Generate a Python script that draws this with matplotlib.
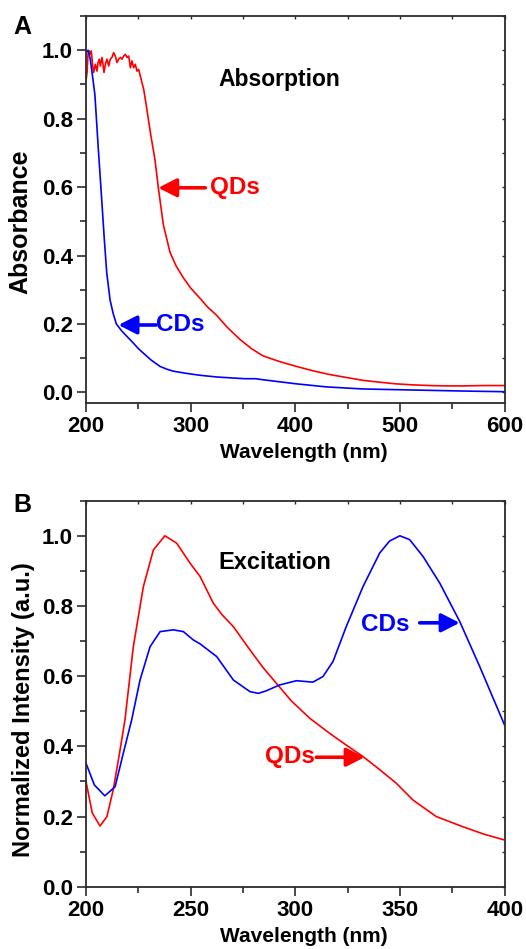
import numpy as np
import matplotlib
matplotlib.use('Agg')
import matplotlib.pyplot as plt
from matplotlib.ticker import MultipleLocator, FormatStrFormatter

plt.rcParams['font.family'] = ['Liberation Sans', 'DejaVu Sans']
plt.rcParams['font.weight'] = 'bold'

# Panel A - absorption
wl_abs_qd = [200, 201, 202, 203, 204, 205, 206.4, 207.3, 208.9, 210.5, 211.5, 212.7, 213.7,
             215.3, 216.2, 217.2, 218.5, 220, 221.7, 223.2, 224.8, 226.4, 228, 229.6, 231.2,
             232.8, 234.4, 236, 237.6, 239.2, 240.8, 242.4, 243.9, 245.5, 247.1, 248.7, 250.3,
             251.9, 253.5, 255.1, 257, 259.5, 262, 265.9, 269.1, 273.9, 280.2, 286, 293, 300,
             308.9, 316, 324.9, 335, 347, 358, 369, 385, 401, 417, 433, 450, 465, 480, 496,
             512, 528, 545, 560, 580, 600]
abs_qd = [0.91, 0.935, 0.993, 0.998, 0.988, 0.998, 0.954, 0.935, 0.959, 0.939, 0.964, 0.974, 0.954,
          0.979, 0.959, 0.935, 0.959, 0.974, 0.954, 0.974, 0.979, 0.993, 0.983, 0.964, 0.974,
          0.979, 0.974, 0.983, 0.988, 0.979, 0.983, 0.949, 0.969, 0.949, 0.959, 0.939, 0.944,
          0.925, 0.905, 0.886, 0.85, 0.80, 0.75, 0.68, 0.598, 0.49, 0.41, 0.37, 0.335, 0.305,
          0.275, 0.25, 0.225, 0.19, 0.155, 0.128, 0.107, 0.09, 0.076, 0.063, 0.052, 0.043, 0.035,
          0.03, 0.025, 0.022, 0.02, 0.019, 0.019, 0.02, 0.02]

wl_abs_cd = [200, 202, 204, 206, 208.5, 211.8, 215, 217.5, 219.8, 223, 226, 229, 234, 239, 245,
             250, 254.7, 262, 270.7, 277, 283.4, 295, 309, 325, 340.7, 352, 362, 369, 385, 401,
             430, 464.6, 496, 528, 560, 600]
abs_cd = [0.995, 1.0, 0.975, 0.93, 0.87, 0.71, 0.564, 0.447, 0.35, 0.27, 0.23, 0.20, 0.18, 0.164,
          0.145, 0.128, 0.115, 0.095, 0.076, 0.068, 0.062, 0.056, 0.05, 0.045, 0.042, 0.04, 0.04,
          0.037, 0.031, 0.025, 0.016, 0.01, 0.008, 0.006, 0.004, 0.002]

# Panel B - excitation
wl_exc_qd = [200, 203, 206.7, 210, 213, 216, 218.6, 222.6, 227.4, 232.2, 237.7, 243.3, 249.7,
             254.5, 260.8, 265, 270.4, 278.3, 284.5, 290.9, 298, 306.9, 316.4, 324, 332.3, 340,
             348.2, 356.2, 367.3, 380, 390, 400]
exc_qd = [0.30, 0.21, 0.173, 0.20, 0.276, 0.38, 0.475, 0.684, 0.855, 0.96, 1.0, 0.979, 0.922,
          0.884, 0.808, 0.775, 0.741, 0.675, 0.625, 0.58, 0.53, 0.48, 0.437, 0.405, 0.371, 0.335,
          0.295, 0.247, 0.20, 0.171, 0.15, 0.133]

wl_exc_cd = [200, 204, 209, 213.9, 217.8, 221.8, 225.8, 230.6, 235.4, 241.7, 246.5, 251.3, 254.5,
             262.4, 270.4, 278.3, 282.3, 286, 292.5, 300.5, 308.4, 313.2, 318, 324.3, 332.3, 340.3,
             345, 349.9, 354.6, 361, 369, 378.5, 388.1, 395, 400]
exc_cd = [0.352, 0.29, 0.259, 0.285, 0.38, 0.475, 0.589, 0.684, 0.727, 0.732, 0.727, 0.703, 0.692,
          0.656, 0.589, 0.556, 0.551, 0.558, 0.575, 0.587, 0.583, 0.599, 0.642, 0.741, 0.855, 0.951,
          0.985, 1.0, 0.989, 0.941, 0.865, 0.756, 0.627, 0.53, 0.46]

RED = '#ff0000'
BLUE = '#0000ff'
SPINE = '#2b2b2b'
TICK_FS = 16


def style_axes(ax, xmaj, xmin, ymaj, ymin):
    for s in ax.spines.values():
        s.set_color(SPINE)
        s.set_linewidth(1.3)
    ax.xaxis.set_major_locator(MultipleLocator(xmaj))
    ax.xaxis.set_minor_locator(MultipleLocator(xmin))
    ax.yaxis.set_major_locator(MultipleLocator(ymaj))
    ax.yaxis.set_minor_locator(MultipleLocator(ymin))
    ax.yaxis.set_major_formatter(FormatStrFormatter('%.1f'))
    ax.tick_params(which='major', direction='out', length=6.5, width=1.2, color=SPINE,
                   labelsize=TICK_FS, pad=3)
    ax.tick_params(which='minor', direction='out', length=4, width=1.2, color=SPINE)
    # small inward ticks on top / right
    top = ax.secondary_xaxis('top')
    top.xaxis.set_major_locator(MultipleLocator(xmin))
    top.tick_params(direction='in', length=2.5, width=1.0, color=SPINE, labeltop=False)
    top.spines['top'].set_visible(False)
    right = ax.secondary_yaxis('right')
    right.yaxis.set_major_locator(MultipleLocator(ymin))
    right.tick_params(direction='in', length=2.5, width=1.0, color=SPINE, labelright=False)
    right.spines['right'].set_visible(False)
    for lab in ax.get_xticklabels() + ax.get_yticklabels():
        lab.set_fontweight('bold')


def arrow(ax, tip, tail, color):
    ax.annotate('', xy=tip, xytext=tail,
                arrowprops=dict(arrowstyle='-|>,head_length=0.55,head_width=0.28',
                                mutation_scale=20, lw=2.6, color=color,
                                shrinkA=0, shrinkB=0))


fig = plt.figure(figsize=(5.26, 9.49), dpi=100)
axA = fig.add_axes([0.1635, 0.5757, 0.796, 0.4074])
axB = fig.add_axes([0.1635, 0.0656, 0.796, 0.4068])

# ---- A ----
axA.plot(wl_abs_qd, abs_qd, color=RED, lw=1.2)
axA.plot(wl_abs_cd, abs_cd, color=BLUE, lw=1.2)
axA.set_xlim(200, 600)
axA.set_ylim(-0.03, 1.1)
style_axes(axA, 100, 50, 0.2, 0.1)
axA.set_xlabel('Wavelength (nm)', fontsize=15, fontweight='bold')
axA.xaxis.set_label_coords(0.521, -0.104)
axA.set_ylabel('Absorbance', fontsize=18, fontweight='bold')
axA.yaxis.set_label_coords(-0.127, 0.467)
axA.text(385, 0.915, 'Absorption', fontsize=16.5, fontweight='bold', ha='center', va='center')
arrow(axA, (269, 0.598), (314, 0.598), RED)
axA.text(318, 0.598, 'QDs', color=RED, fontsize=17.5, fontweight='bold', ha='left', va='center')
arrow(axA, (231, 0.197), (267, 0.197), BLUE)
axA.text(267, 0.199, 'CDs', color=BLUE, fontsize=17.5, fontweight='bold', ha='left', va='center')
fig.text(22 / 526, 1 - 27 / 949, 'A', fontsize=18, fontweight='bold', ha='center', va='center')

# ---- B ----
axB.plot(wl_exc_qd, exc_qd, color=RED, lw=1.2)
axB.plot(wl_exc_cd, exc_cd, color=BLUE, lw=1.2)
axB.set_xlim(200, 400)
axB.set_ylim(0, 1.1)
style_axes(axB, 50, 25, 0.2, 0.1)
axB.set_xlabel('Wavelength (nm)', fontsize=15, fontweight='bold')
axB.xaxis.set_label_coords(0.521, -0.104)
axB.set_ylabel('Normalized Intensity (a.u.)', fontsize=17, fontweight='bold')
axB.yaxis.set_label_coords(-0.122, 0.46)
axB.text(290, 0.923, 'Excitation', fontsize=17, fontweight='bold', ha='center', va='center')
arrow(axB, (378.5, 0.752), (359.4, 0.752), BLUE)
axB.text(331.5, 0.747, 'CDs', color=BLUE, fontsize=17.5, fontweight='bold', ha='left', va='center')
arrow(axB, (333.1, 0.369), (310, 0.369), RED)
axB.text(309.2, 0.371, 'QDs', color=RED, fontsize=17.5, fontweight='bold', ha='right', va='center')
fig.text(22 / 526, 1 - 505 / 949, 'B', fontsize=18, fontweight='bold', ha='center', va='center')

fig.savefig('out.png', dpi=100)
